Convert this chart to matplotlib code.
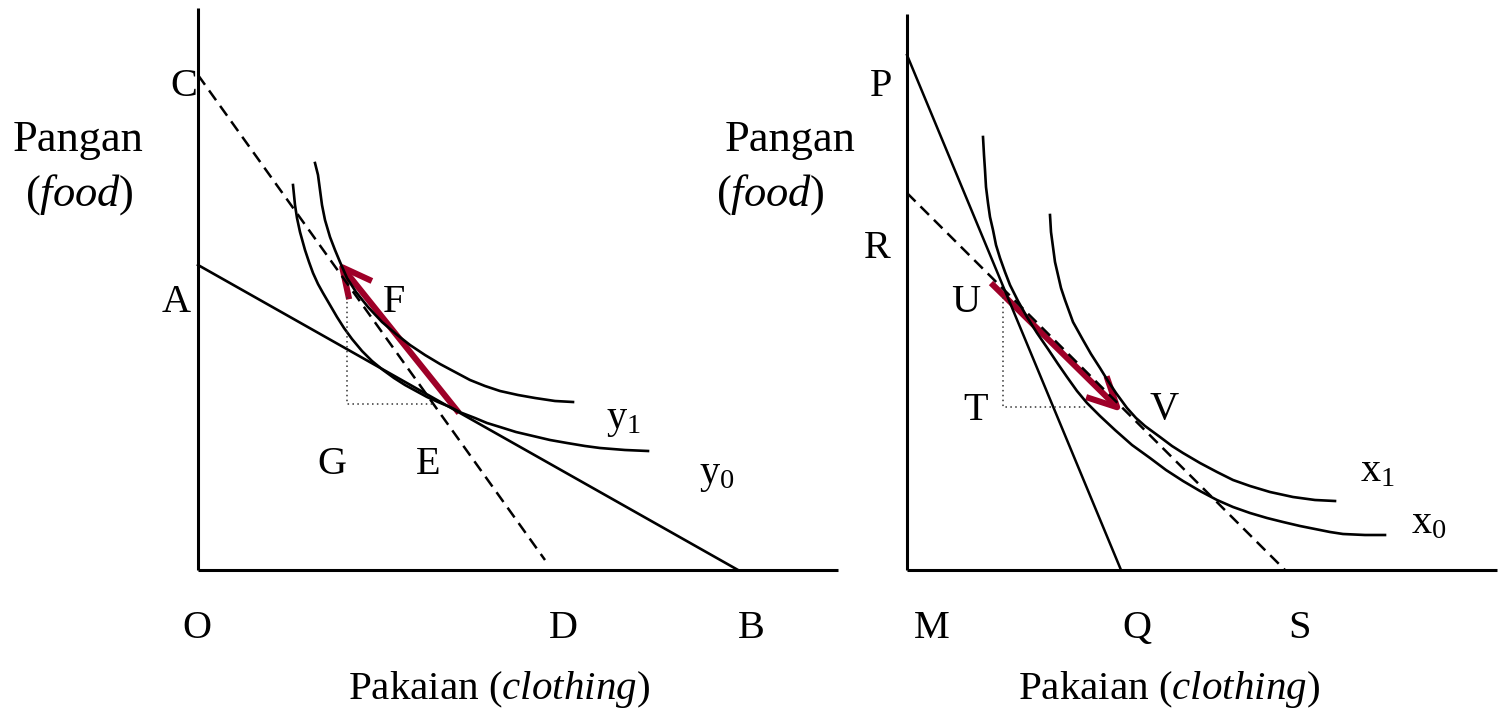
import matplotlib.pyplot as plt
from matplotlib.patches import FancyArrowPatch

plt.rcParams['font.family'] = 'Liberation Serif'
plt.rcParams['mathtext.fontset'] = 'custom'
plt.rcParams['mathtext.rm'] = 'Liberation Serif'
plt.rcParams['mathtext.it'] = 'Liberation Serif:italic'

red = "#9E0028"

# ---- left panel (pixel coordinates, y downward) ----
leftVert = ([198, 198], [8, 570])
leftHoriz = ([198, 838], [570, 570])
lineAB = ([198, 738], [265, 570])
lineCD = ([198, 545], [75, 560])
y1x = [315, 318, 320, 322, 325, 330, 335, 340, 347, 356, 368, 382, 396, 410, 425, 440,
       455, 470, 485, 500, 518, 535, 555, 573]
y1y = [163, 175, 190, 205, 220, 237, 250, 262, 278, 292, 307, 322, 334, 345, 355, 364,
       372, 380, 386, 391, 395, 398, 401, 402]
y0x = [293, 294, 295, 297, 300, 305, 309, 313, 318, 323, 330, 337, 344, 352, 362, 372,
       383, 394, 405, 416, 427, 438, 450, 462, 475, 487, 500, 516, 533, 550, 567, 585,
       600, 625, 648]
y0y = [185, 195, 205, 218, 232, 250, 262, 273, 284, 293, 305, 317, 328, 339, 351, 361,
       370, 378, 385, 391, 397, 402, 407, 413, 418, 423, 427, 432, 436, 440, 443, 446,
       448, 450, 451]
dotLeft = ([347, 347, 433], [297, 404, 404])
arrowLeft = ((459, 413), (338, 262))

# ---- right panel ----
rightVert = ([907, 907], [14, 570])
rightHoriz = ([907, 1497], [570, 570])
linePQ = ([907, 1121], [55, 570])
lineRS = ([907, 1285], [193, 570])
x0x = [983, 984, 985, 986, 988, 990, 993, 996, 1000, 1005, 1010, 1018, 1027, 1037, 1048,
       1058, 1067, 1077, 1087, 1100, 1115, 1132, 1150, 1166, 1183, 1200, 1217, 1233, 1250,
       1267, 1283, 1300, 1315, 1330, 1343, 1365, 1385]
x0y = [137, 155, 170, 187, 203, 217, 230, 245, 258, 272, 285, 301, 317, 333, 349,
       364, 377, 391, 403, 416, 430, 445, 458, 470, 481, 491, 500, 507, 513,
       518, 522, 526, 529, 532, 534, 535, 535]
x1x = [1050, 1051, 1053, 1055, 1058, 1061, 1065, 1069, 1073, 1078, 1083, 1091, 1100, 1108,
       1116, 1127, 1136, 1145, 1160, 1172, 1183, 1200, 1217, 1233, 1250, 1270, 1293, 1315, 1335]
x1y = [215, 232, 247, 262, 275, 288, 300, 311, 322, 331, 340, 354, 368, 381,
       393, 408, 418, 426, 437, 446, 453, 463, 472, 480, 486, 492, 497, 500, 501]
dotRight = ([1003, 1003, 1088], [297, 407, 407])
arrowRight = ((991, 283), (1122, 412))

# labels
pointLabels = ["C", "A", "F", "G", "E", "O", "D", "B", "P", "R", "U", "T", "V", "M", "Q", "S"]
pointX = [184, 176, 394, 332, 428, 197, 563, 751, 881, 877, 966, 976, 1164, 932, 1137, 1300]
pointY = [86, 302, 302, 465, 465, 628, 628, 628, 86, 248, 302, 410, 410, 628, 628, 628]
curveLabels = ["y$_1$", "y$_0$", "x$_1$", "x$_0$"]
curveLabX = [606, 699, 1360, 1411]
curveLabY = [428, 483, 481, 533]

fig = plt.figure(figsize=(14.99, 7.14), dpi=100)
ax = fig.add_axes([0, 0, 1, 1])
ax.set_xlim(0, 1499)
ax.set_ylim(714, 0)
ax.axis("off")

for ln in [leftVert, leftHoriz, rightVert, rightHoriz]:
    ax.plot(ln[0], ln[1], color="black", lw=2.2, solid_capstyle="butt")

ax.plot(lineAB[0], lineAB[1], color="black", lw=1.9)
ax.plot(linePQ[0], linePQ[1], color="black", lw=1.8)
ax.plot(lineCD[0], lineCD[1], color="black", lw=1.8, dashes=(4.8, 2.8))
ax.plot(lineRS[0], lineRS[1], color="black", lw=1.8, dashes=(4.8, 2.8))

for cx, cy in [(y1x, y1y), (y0x, y0y), (x0x, x0y), (x1x, x1y)]:
    ax.plot(cx, cy, color="black", lw=1.9, solid_joinstyle="round")

for d in [dotLeft, dotRight]:
    ax.plot(d[0], d[1], color="#333333", lw=1.1, dashes=(1, 2.2))

for tail, tip in [arrowLeft, arrowRight]:
    arr = FancyArrowPatch(tail, tip, arrowstyle="->,head_length=21,head_width=10.5",
                          mutation_scale=1, color=red, lw=4.4,
                          shrinkA=0, shrinkB=0, joinstyle="round", capstyle="butt")
    ax.add_patch(arr)

for lab, lx, ly in zip(pointLabels, pointX, pointY):
    ax.text(lx, ly, lab, fontsize=29, ha="center", va="center")

for lab, lx, ly in zip(curveLabels, curveLabX, curveLabY):
    ax.text(lx, ly, lab, fontsize=29, ha="left", va="baseline")

# axis titles
ax.text(78, 140, "Pangan", fontsize=32, ha="center", va="center")
ax.text(79, 195, "($\\mathit{food}$)", fontsize=32, ha="center", va="center")
ax.text(790, 140, "Pangan", fontsize=32, ha="center", va="center")
ax.text(770, 195, "($\\mathit{food}$)", fontsize=32, ha="center", va="center")
ax.text(499, 690, "Pakaian ($\\mathit{clothing}$)", fontsize=29.5, ha="center", va="center")
ax.text(1169, 690, "Pakaian ($\\mathit{clothing}$)", fontsize=29.5, ha="center", va="center")

fig.savefig("out.png", dpi=100)
